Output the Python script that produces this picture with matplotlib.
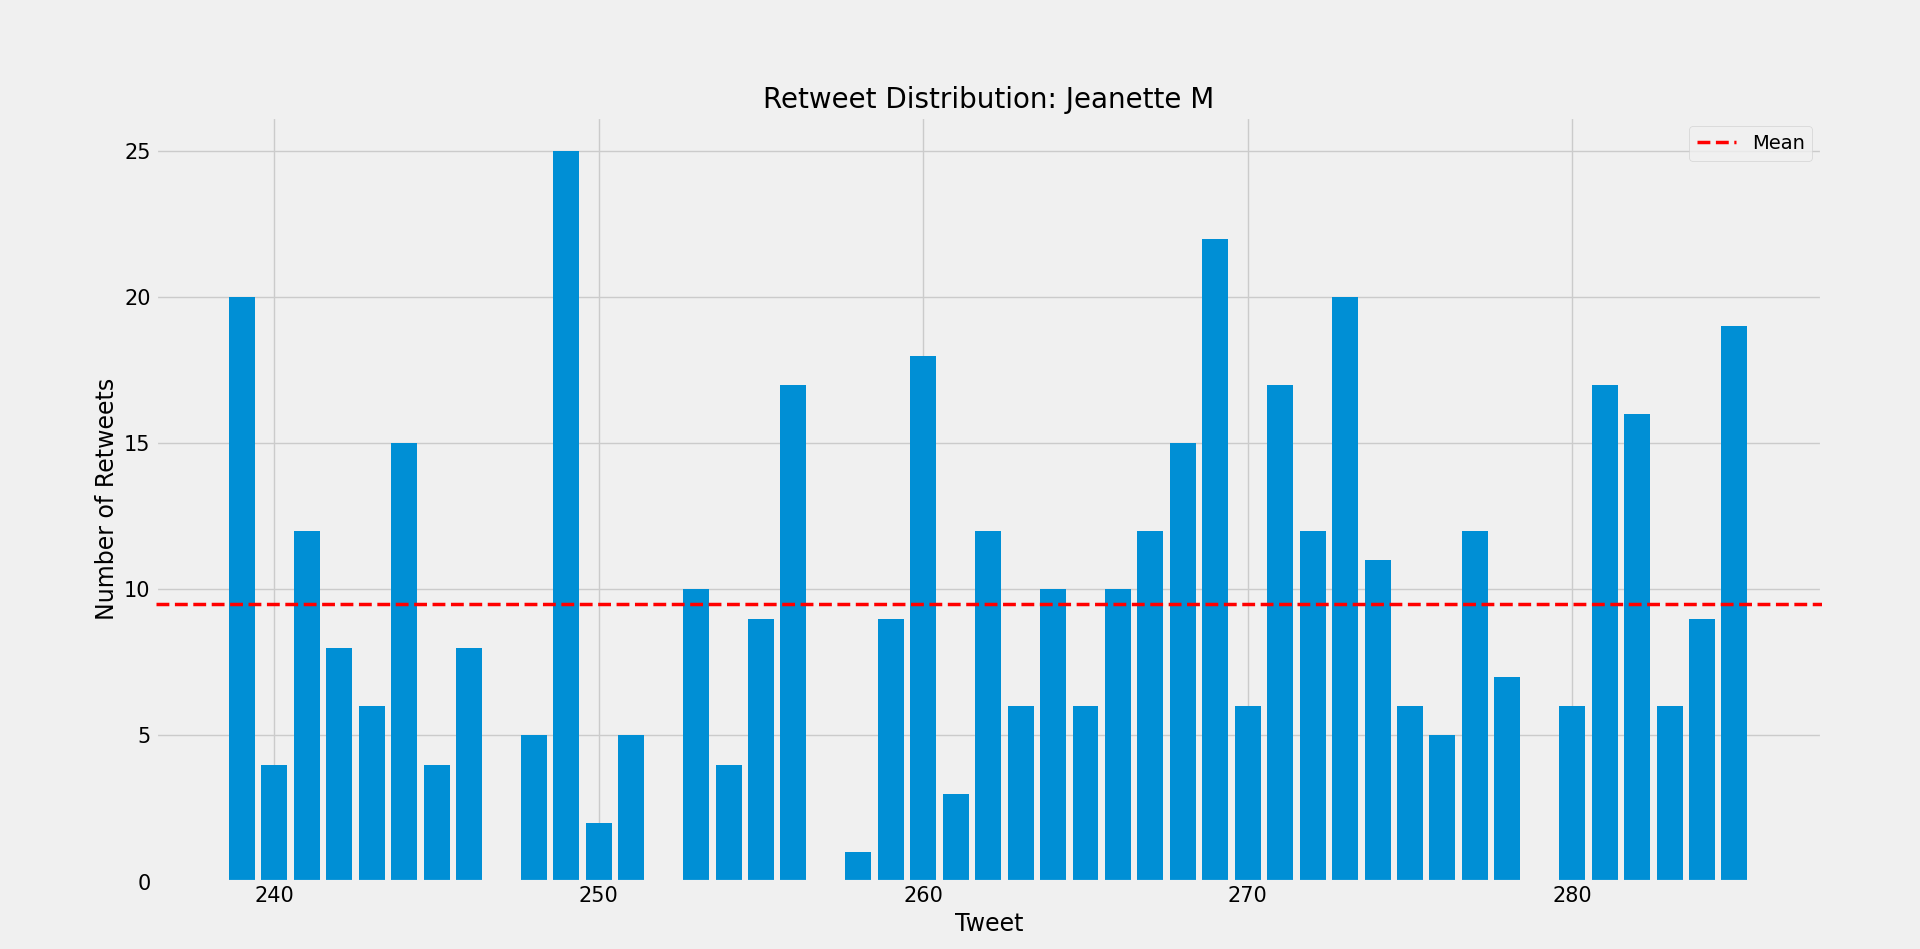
import matplotlib
matplotlib.use("Agg")
import matplotlib.pyplot as plt
import numpy as np

tweets = list(range(239, 286))
retweets = [20, 4, 12, 8, 6, 15, 4, 8, 0, 5, 25, 2, 5, 0, 10, 4, 9, 17, 0, 1,
            9, 18, 3, 12, 6, 10, 6, 10, 12, 15, 22, 6, 17, 12, 20, 11, 6, 5, 12, 7,
            0, 6, 17, 16, 6, 9, 19]

plt.style.use("fivethirtyeight")
fig = plt.figure(figsize=(19.2, 9.49), dpi=100)
ax = fig.add_axes([0.081, 0.071, 0.868, 0.806])
ax.bar(tweets, retweets, color="#008fd5", zorder=2)
ax.axhline(np.mean(retweets), color="red", linestyle="--", linewidth=2.5, label="Mean", zorder=3)
ax.set_xlim(236.34, 287.7)
ax.set_ylim(0, 26.17)
ax.set_title("Retweet Distribution: Jeanette M", fontsize=20)
ax.set_xlabel("Tweet", fontsize=17)
ax.set_ylabel("Number of Retweets", fontsize=17)
ax.tick_params(labelsize=15)
ax.legend(loc="upper right", fontsize=14)
fig.savefig("out.png", dpi=100, facecolor=fig.get_facecolor())
